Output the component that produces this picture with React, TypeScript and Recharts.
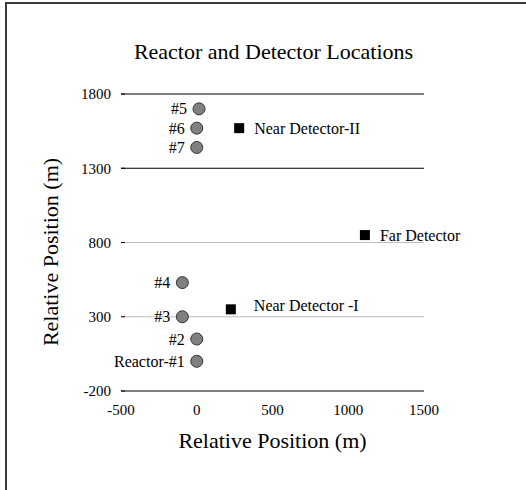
import React from 'react';
import { ScatterChart, Scatter, XAxis, YAxis, ReferenceLine, Label } from 'recharts';

const reactorNames = ['Reactor-#1', '#2', '#3', '#4', '#5', '#6', '#7'];
const reactorX = [0, 0, -95, -95, 15, 0, 0];
const reactorY = [0, 150, 300, 530, 1700, 1570, 1440];

const detectorNames = ['Near Detector-II', 'Near Detector -I', 'Far Detector'];
const detectorX = [280, 225, 1110];
const detectorY = [1570, 350, 850];

const xTicks = [-500, 0, 500, 1000, 1500];
const yTicks = [-200, 300, 800, 1300, 1800];

const reactors = reactorNames.map((name, i) => ({ name, x: reactorX[i], y: reactorY[i] }));
const detectors = detectorNames.map((name, i) => ({ name, x: detectorX[i], y: detectorY[i] }));

const FONT = '"Liberation Serif", "Times New Roman", serif';
// grid lines at 1800, 1300 and the base are black, the others light gray
const gridColor = (v: number) => (v === 800 || v === 300 ? '#bdbdbd' : '#000');
const labelNudge: Record<string, [number, number]> = { 'Near Detector -I': [8, -4] };

const ReactorShape = (props: any) => {
  const { cx, cy, payload } = props;
  return (
    <g>
      <circle cx={cx} cy={cy} r={6} fill="#808080" stroke="#333" strokeWidth={1} />
      <text x={cx - 12} y={cy} dy="0.35em" textAnchor="end" fontFamily={FONT} fontSize={16} fill="#000">
        {payload.name}
      </text>
    </g>
  );
};

const DetectorShape = (props: any) => {
  const { cx, cy, payload } = props;
  const [dx, dy] = labelNudge[payload.name] || [0, 0];
  return (
    <g>
      <rect x={cx - 5} y={cy - 5} width={10} height={10} fill="#000" />
      <text x={cx + 15 + dx} y={cy + dy} dy="0.35em" textAnchor="start" fontFamily={FONT} fontSize={16} fill="#000">
        {payload.name}
      </text>
    </g>
  );
};

const YTick = (props: any) => {
  const { x, y, payload } = props;
  return (
    <g>
      <text x={x} y={y} dy="0.35em" textAnchor="end" fontFamily={FONT} fontSize={15} fill="#000">
        {payload.value}
      </text>
      <line x1={x + 10} x2={x + 14} y1={y} y2={y} stroke="#000" />
    </g>
  );
};

const App: React.FC = () => {
  return (
    <div
      style={{
        position: 'absolute',
        left: 5,
        top: 2,
        width: 521,
        height: 488,
        boxSizing: 'border-box',
        borderLeft: '2px solid #3a3a3a',
        borderTop: '2px solid #3a3a3a',
        background: '#fff',
      }}
    >
      <div
        style={{
          position: 'absolute',
          left: 0,
          top: 35,
          width: 533,
          textAlign: 'center',
          fontFamily: FONT,
          fontSize: 22,
          lineHeight: '26px',
          color: '#000',
        }}
      >
        Reactor and Detector Locations
      </div>
      <ScatterChart width={519} height={486} margin={{ top: 90, right: 102, bottom: 0, left: 0 }}>
        {yTicks.map((v) => (
          <ReferenceLine key={v} y={v} stroke={gridColor(v)} strokeWidth={1} />
        ))}
        <XAxis
          type="number"
          dataKey="x"
          domain={[-500, 1500]}
          ticks={xTicks}
          axisLine={false}
          tickLine={false}
          tickSize={0}
          tickMargin={13}
          height={99}
          tick={{ fontFamily: FONT, fontSize: 15, fill: '#000' }}
        >
          <Label
            content={(p: any) => {
              const vb = p.viewBox;
              return (
                <text x={vb.x + vb.width / 2} y={vb.y + 57} textAnchor="middle" fontFamily={FONT} fontSize={22} fill="#000">
                  Relative Position (m)
                </text>
              );
            }}
          />
        </XAxis>
        <YAxis
          type="number"
          dataKey="y"
          domain={[-200, 1800]}
          ticks={yTicks}
          axisLine={false}
          tickLine={false}
          tickSize={0}
          tickMargin={10}
          width={114}
          tick={<YTick />}
        >
          <Label
            content={(p: any) => {
              const vb = p.viewBox;
              const cy = 248;
              return (
                <text x={51} y={cy} transform={`rotate(-90 51 ${cy})`} textAnchor="middle" fontFamily={FONT} fontSize={22} fill="#000">
                  Relative Position (m)
                </text>
              );
            }}
          />
        </YAxis>
        <Scatter data={reactors} shape={<ReactorShape />} isAnimationActive={false} />
        <Scatter data={detectors} shape={<DetectorShape />} isAnimationActive={false} />
      </ScatterChart>
    </div>
  );
};

export default App;
